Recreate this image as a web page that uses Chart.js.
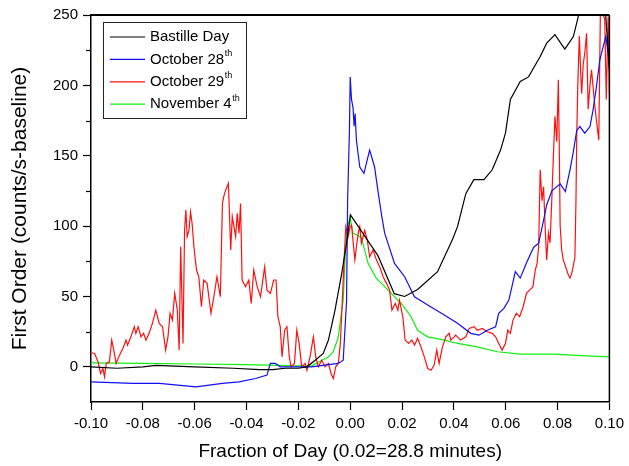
<!DOCTYPE html>
<html>
<head>
<meta charset="utf-8">
<script src="https://cdn.jsdelivr.net/npm/chart.js@4.4.0/dist/chart.umd.min.js"></script>
<style>
  html, body { margin: 0; padding: 0; background: #fff; }
  canvas { display: block; }
</style>
</head>
<body>
<canvas id="chart" width="629" height="466"></canvas>
<script>
// series names + superscripts for the legend
const seriesNames = ['Bastille Day', 'October 28', 'October 29', 'November 4'];
const seriesSup = ['', 'th', 'th', 'th'];
const seriesColors = ['#000000', '#1010f0', '#ff1010', '#10f010'];

const xTicks = [-0.10, -0.08, -0.06, -0.04, -0.02, 0.00, 0.02, 0.04, 0.06, 0.08, 0.10];
const yTicks = [0, 50, 100, 150, 200, 250];
const yMinorTicks = [25, 75, 125, 175, 225];

// Bastille Day
const bastilleX = [-0.1, -0.09, -0.08, -0.075, -0.06, -0.045, -0.035, -0.03, -0.025, -0.02, -0.0167, -0.0135, -0.0104, -0.0084, -0.0059, -0.0033, -0.0014, 0.0001, 0.0107, 0.017, 0.021, 0.026, 0.0337, 0.0395, 0.0414, 0.0446, 0.0477, 0.0516, 0.0548, 0.058, 0.0599, 0.0618, 0.0656, 0.0688, 0.0733, 0.0758, 0.079, 0.0828, 0.0861, 0.088, 0.092, 0.098, 0.1];
const bastilleY = [0, -1, 0, 1, 0, -1, -2, -2, -1, -1, 0, 4.7, 9.5, 19, 40, 66, 88, 108, 79, 52, 50, 55, 67.6, 90.6, 99.6, 123, 133, 133, 140, 154, 166, 190, 202.7, 206, 220.5, 230, 236, 225.7, 234.7, 249, 270, 265, 212];

// October 28
const oct28X = [-0.1, -0.0838, -0.0736, -0.0595, -0.0493, -0.0429, -0.0365, -0.0321, -0.0308, -0.0289, -0.027, -0.015, -0.0046, -0.0027, -0.0014, -0.001, -0.0003, 0.0, 0.0005, 0.0011, 0.0015, 0.0019, 0.0024, 0.0037, 0.0053, 0.0075, 0.0094, 0.0107, 0.0122, 0.0133, 0.0171, 0.021, 0.0248, 0.0299, 0.0363, 0.0414, 0.0465, 0.0497, 0.0529, 0.0561, 0.0573, 0.0593, 0.0612, 0.0624, 0.0637, 0.0656, 0.0682, 0.0708, 0.0727, 0.0746, 0.0758, 0.0778, 0.081, 0.083, 0.0848, 0.086, 0.0874, 0.0886, 0.0905, 0.0925, 0.0937, 0.095, 0.0963, 0.0976, 0.0986, 0.0995, 0.1];
const oct28Y = [-10.7, -11.8, -11.8, -14.2, -11.8, -10.7, -8.3, -5.9, 2.4, 2.4, 0, 0, 2.4, 4.7, 47, 118, 168, 206, 190, 184, 171, 180, 161, 142, 137.5, 154, 142, 125, 106.7, 95, 73.5, 64, 49.8, 43.9, 36.8, 30.9, 23.8, 22.5, 26, 28.5, 38, 41.5, 47.4, 57, 67.6, 63, 74.7, 85, 87.8, 104, 115, 125, 130, 124.5, 140, 151.8, 168, 170.7, 166, 170.7, 182.6, 199, 218, 227.6, 234.7, 223, 211];

// October 29
const oct29X = [-0.1, -0.0986, -0.0973, -0.0963, -0.0954, -0.0948, -0.0941, -0.0929, -0.092, -0.0912, -0.0903, -0.089, -0.0877, -0.0865, -0.0859, -0.0846, -0.0833, -0.0827, -0.0818, -0.0807, -0.0797, -0.0788, -0.0776, -0.0763, -0.075, -0.0737, -0.0724, -0.0712, -0.0703, -0.0695, -0.0686, -0.0677, -0.0667, -0.066, -0.0654, -0.0645, -0.0639, -0.0634, -0.0629, -0.0622, -0.0616, -0.061, -0.0603, -0.0593, -0.0584, -0.0574, -0.0565, -0.0552, -0.0537, -0.0526, -0.0514, -0.0501, -0.0493, -0.0488, -0.048, -0.047, -0.0461, -0.0455, -0.0442, -0.0436, -0.0429, -0.0423, -0.0417, -0.0404, -0.0391, -0.0382, -0.0372, -0.0359, -0.0346, -0.033, -0.0321, -0.0308, -0.0295, -0.0286, -0.0279, -0.027, -0.0263, -0.0253, -0.0244, -0.0235, -0.0228, -0.0215, -0.0206, -0.0197, -0.0187, -0.0174, -0.0167, -0.0155, -0.0142, -0.0133, -0.0123, -0.011, -0.0097, -0.0084, -0.0074, -0.0065, -0.0056, -0.0046, -0.0038, -0.0031, -0.0023, -0.0017, -0.0008, 0.0, 0.0005, 0.0018, 0.0024, 0.0031, 0.0037, 0.0043, 0.0056, 0.0066, 0.0075, 0.0088, 0.0101, 0.0114, 0.0127, 0.014, 0.0152, 0.0161, 0.0174, 0.0184, 0.019, 0.0203, 0.0212, 0.0225, 0.0238, 0.0248, 0.026, 0.0273, 0.0286, 0.0299, 0.0312, 0.0324, 0.0334, 0.0343, 0.0356, 0.0369, 0.0382, 0.0388, 0.0401, 0.0407, 0.0426, 0.0446, 0.0459, 0.0478, 0.049, 0.051, 0.0529, 0.0548, 0.0561, 0.0573, 0.0586, 0.0599, 0.0608, 0.0618, 0.0628, 0.0641, 0.0654, 0.0667, 0.068, 0.0692, 0.0705, 0.0714, 0.0721, 0.0727, 0.0733, 0.074, 0.0746, 0.0752, 0.0758, 0.0765, 0.0771, 0.0778, 0.0784, 0.079, 0.0797, 0.0803, 0.0807, 0.081, 0.0816, 0.0822, 0.0835, 0.0842, 0.0848, 0.0854, 0.086, 0.0867, 0.0871, 0.0874, 0.0878, 0.0884, 0.0889, 0.0893, 0.0899, 0.0905, 0.0912, 0.0918, 0.0925, 0.0931, 0.0937, 0.0944, 0.095, 0.0959, 0.0965, 0.0971, 0.0976, 0.0982, 0.0988, 0.0995, 0.1];
const oct29Y = [10, 9.5, 3.6, -4.7, -1.2, -7, 2.4, 3.6, 19, 11.9, 2.4, 8.3, 13, 19, 15.4, 21.3, 28.5, 23.8, 28.5, 21.3, 23.8, 19, 23.8, 30.9, 40.3, 30.9, 28.5, 11.9, 21.3, 38, 33.2, 52.2, 40.3, 11.9, 85.3, 16.6, 97, 111.4, 92.5, 97, 110, 102, 85.3, 68.8, 64, 42.7, 61.7, 59.3, 38, 49.8, 64, 49.8, 116, 121, 125.7, 130.4, 83, 106.7, 92.5, 109, 95, 116, 61.7, 57, 61.7, 45, 68.8, 57, 49.8, 71, 54.5, 52.2, 61.7, 61.7, 35.6, 28.5, 7.1, 26, 28.5, 7.1, 0, 2.4, 26, 16.6, 0, 2.4, -2.4, 7.1, 21.3, 7.1, 0, 4.7, 0, 2.4, -4.7, -8.3, 0, 2.4, 16.6, 45, 78, 99.6, 92.5, 99.6, 100.8, 76, 85.3, 95, 99.6, 87.8, 97, 90, 78, 83, 76, 71, 64, 59.3, 54.5, 40.3, 45, 40.3, 47.4, 35.6, 19, 16.6, 19, 15.4, 20.2, 14.2, 7.1, -1.2, -2.4, 1.2, 11.9, 2.4, 14.2, 21.3, 23.8, 19, 21.3, 22.5, 19, 21.3, 27.3, 28.5, 26, 27.3, 24.9, 23.8, 21.3, 16.6, 11.9, 16.6, 26, 23.8, 33.2, 38, 35.6, 42.7, 52.2, 54.5, 57, 68.8, 73.5, 85.3, 140, 118, 128, 100, 76, 95, 88, 120, 150, 178, 160, 204, 150, 100, 83, 76, 69, 65, 63, 66, 71, 78, 118, 164, 200, 235, 210, 194, 215, 223, 237, 183, 200, 211, 199, 185, 175, 161, 249, 256, 250, 247, 190, 249, 194];

// November 4
const nov4X = [-0.1, -0.08, -0.06, -0.04, -0.02, -0.015, -0.011, -0.0084, -0.0065, -0.0046, -0.0033, -0.0027, -0.002, -0.0014, -0.0001, 0.0011, 0.0043, 0.0069, 0.0101, 0.0146, 0.0197, 0.0235, 0.026, 0.0299, 0.0363, 0.0414, 0.049, 0.0567, 0.0656, 0.0784, 0.0912, 0.1];
const nov4Y = [2.8, 2.5, 2, 1.5, 0.7, 0.5, 4.7, 7, 10.7, 21, 40, 47, 76, 95, 106.7, 95, 92, 73.5, 62.9, 54.5, 45, 35.6, 26, 21.3, 19, 16.6, 14.2, 10.7, 9, 9, 7.8, 7];

const xTitle = 'Fraction of Day (0.02=28.8 minutes)';
const yTitle = 'First Order (counts/s-baseline)';

const FONT = "'Liberation Sans', Arial, sans-serif";
Chart.defaults.font.family = FONT;
Chart.defaults.color = '#000';

const toPts = (xs, ys) => xs.map((x, i) => ({ x, y: ys[i] }));
const seriesData = [toPts(bastilleX, bastilleY), toPts(oct28X, oct28Y), toPts(oct29X, oct29Y), toPts(nov4X, nov4Y)];

const framePlugin = {
  id: 'frame',
  afterDatasetsDraw(chart) {
    const { ctx, chartArea: a } = chart;
    const y = chart.scales.y;
    ctx.save();
    ctx.strokeStyle = '#000';
    // top + right border
    ctx.lineWidth = 2;
    ctx.beginPath();
    ctx.moveTo(a.left, a.top);
    ctx.lineTo(a.right, a.top);
    ctx.stroke();
    ctx.lineWidth = 1.5;
    ctx.beginPath();
    ctx.moveTo(a.right, a.top);
    ctx.lineTo(a.right, a.bottom);
    ctx.stroke();
    // minor y ticks
    ctx.lineWidth = 1.2;
    yMinorTicks.forEach(v => {
      const py = Math.round(y.getPixelForValue(v)) + 0.5;
      ctx.beginPath();
      ctx.moveTo(a.left - 5, py);
      ctx.lineTo(a.left, py);
      ctx.stroke();
    });

    // legend box
    const bx = a.left + 12, by = a.top + 7, bw = 143, bh = 96;
    ctx.fillStyle = '#fff';
    ctx.fillRect(bx, by, bw, bh);
    ctx.lineWidth = 1;
    ctx.strokeStyle = '#222';
    ctx.strokeRect(bx + 0.5, by + 0.5, bw, bh);
    ctx.textBaseline = 'middle';
    ctx.textAlign = 'left';
    seriesNames.forEach((name, i) => {
      const yy = by + 15 + i * 22.4;
      ctx.strokeStyle = seriesColors[i];
      ctx.lineWidth = 1.2;
      ctx.beginPath();
      ctx.moveTo(bx + 7, yy);
      ctx.lineTo(bx + 42, yy);
      ctx.stroke();
      ctx.fillStyle = '#000';
      ctx.font = '15px ' + FONT;
      ctx.fillText(name, bx + 47, yy);
      if (seriesSup[i]) {
        const w = ctx.measureText(name).width;
        ctx.font = '9px ' + FONT;
        ctx.fillText(seriesSup[i], bx + 47 + w + 0.5, yy - 6);
      }
    });
    ctx.restore();
  }
};

new Chart(document.getElementById('chart'), {
  type: 'line',
  data: {
    datasets: seriesNames.map((name, i) => ({
      label: name,
      data: seriesData[i],
      borderColor: seriesColors[i],
      borderWidth: 1.2,
      pointRadius: 0,
      tension: 0,
      fill: false
    }))
  },
  options: {
    responsive: false,
    animation: false,
    layout: { padding: { top: 15, right: 16, left: 0, bottom: 0 } },
    plugins: { legend: { display: false }, tooltip: { enabled: false } },
    scales: {
      x: {
        type: 'linear',
        min: -0.1,
        max: 0.1,
        afterBuildTicks: (s) => { s.ticks = xTicks.map(v => ({ value: v })); },
        afterFit: (s) => { s.height = 64; },
        grid: { drawOnChartArea: false, tickLength: 8, color: '#000', tickWidth: 1.2 },
        border: { color: '#000', width: 1.5 },
        ticks: { color: '#000', font: { size: 15 }, padding: 5, maxRotation: 0, callback: (v) => Number(v).toFixed(2) },
        title: { display: true, text: xTitle, color: '#000', font: { size: 19 }, padding: { top: 0, bottom: 3 } }
      },
      y: {
        min: -25,
        max: 250,
        afterBuildTicks: (s) => { s.ticks = yTicks.map(v => ({ value: v })); },
        afterFit: (s) => { s.width = 91; },
        grid: { drawOnChartArea: false, tickLength: 8, color: '#000', tickWidth: 1.2 },
        border: { color: '#000', width: 1.5 },
        ticks: { color: '#000', font: { size: 15 }, padding: 5, callback: (v) => String(v) },
        title: { display: true, text: yTitle, color: '#000', font: { size: 21 }, padding: { top: 8, bottom: 0 } }
      }
    }
  },
  plugins: [framePlugin]
});
</script>
</body>
</html>
